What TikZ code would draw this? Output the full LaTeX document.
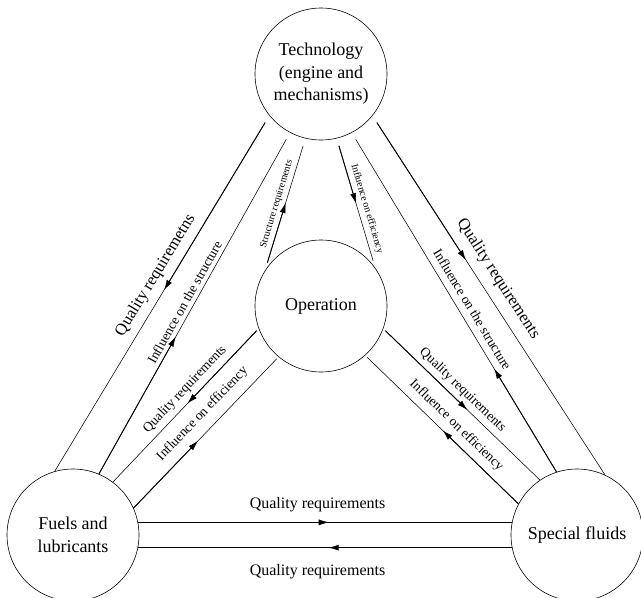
\documentclass[tikz,border=0pt]{standalone}
\usepackage{fontspec}
\setmainfont{Liberation Serif}
\usetikzlibrary{arrows.meta,decorations.markings}

\tikzstyle{unit}=[draw, circle, line width=.6pt, minimum size=132pt, inner sep=0pt, align=center, font=\fontsize{18}{22.5}\selectfont]
\tikzstyle{biglab}=[sloped, inner sep=0pt, font=\fontsize{16.5}{18}\selectfont]
\tikzstyle{lab}=[sloped, inner sep=0pt, font=\fontsize{13.5}{15}\selectfont]
\tikzstyle{smalllab}=[sloped, inner sep=0pt, font=\fontsize{10}{12}\selectfont]
\tikzstyle{flatlab}=[inner sep=0pt, font=\fontsize{16}{18}\selectfont]
\tikzset{dep/.style={line width=.55pt, postaction={decorate},
    decoration={markings, mark=at position #1 with {%
        \draw[line width=.9pt] (-4pt,0) -- (-#1*\pgfdecoratedpathlength,0);
        \arrow{Latex[length=10pt,width=6pt]}}}}}

\begin{document}
\begin{tikzpicture}[x=1pt, y=-1pt]
  \useasboundingbox (0,0) rectangle (641,598);
  \node[unit, outer sep=8pt] (tech) at (321,74) {Technology\\(engine and\\mechanisms)};
  \node[unit, outer sep=3pt] (oper) at (321,306) {Operation};
  \node[unit] (fuel) at (73,535) {Fuels and\\lubricants};
  \node[unit] (spec) at (577,535) {Special fluids};

  % technology -- fuels
  \draw[dep=.48] (tech.221) -- node[biglab, above=7pt, pos=.46] {Quality requiremetns} (fuel.106);
  \draw[dep=.41] (fuel.67) -- node[lab, above=4pt, pos=.5] {Influence on the structure} (tech.242);
  % technology -- operation
  \draw[dep=.51] (oper.141) -- node[smalllab, above=3.5pt, pos=.48] {Structure requirements} (tech.256);
  \draw[dep=.5] (tech.284) -- node[smalllab, above=4pt, pos=.57] {Influence on efficiency} (oper.41);
  % technology -- special fluids
  \draw[dep=.39] (tech.319) -- node[biglab, above=9pt, pos=.47] {Quality requirements} (spec.65);
  \draw[dep=.31] (spec.108) -- node[lab, above=7pt, pos=.47] {Influence on the structure} (tech.298);
  % operation -- fuels
  \draw[dep=.48] (oper.201) -- node[lab, above=5pt, pos=.44] {Quality requirements} (fuel.53);
  \draw[dep=.45] (fuel.24) -- node[lab, above=9pt, pos=.56] {Influence on efficiency} (oper.230);
  % operation -- special fluids
  \draw[dep=.53] (oper.339) -- node[lab, above=4.5pt, pos=.45] {Quality requirements} (spec.124);
  \draw[dep=.5] (spec.152) -- node[lab, above=6.5pt, pos=.47] {Influence on efficiency} (oper.312);
  % fuels -- special fluids
  \draw[dep=.51] (fuel.11) -- node[flatlab, above=10pt, pos=.48] {Quality requirements} (spec.169);
  \draw[dep=.49] (spec.191) -- node[flatlab, below=16pt, pos=.52] {Quality requirements} (fuel.349);
\end{tikzpicture}
\end{document}
